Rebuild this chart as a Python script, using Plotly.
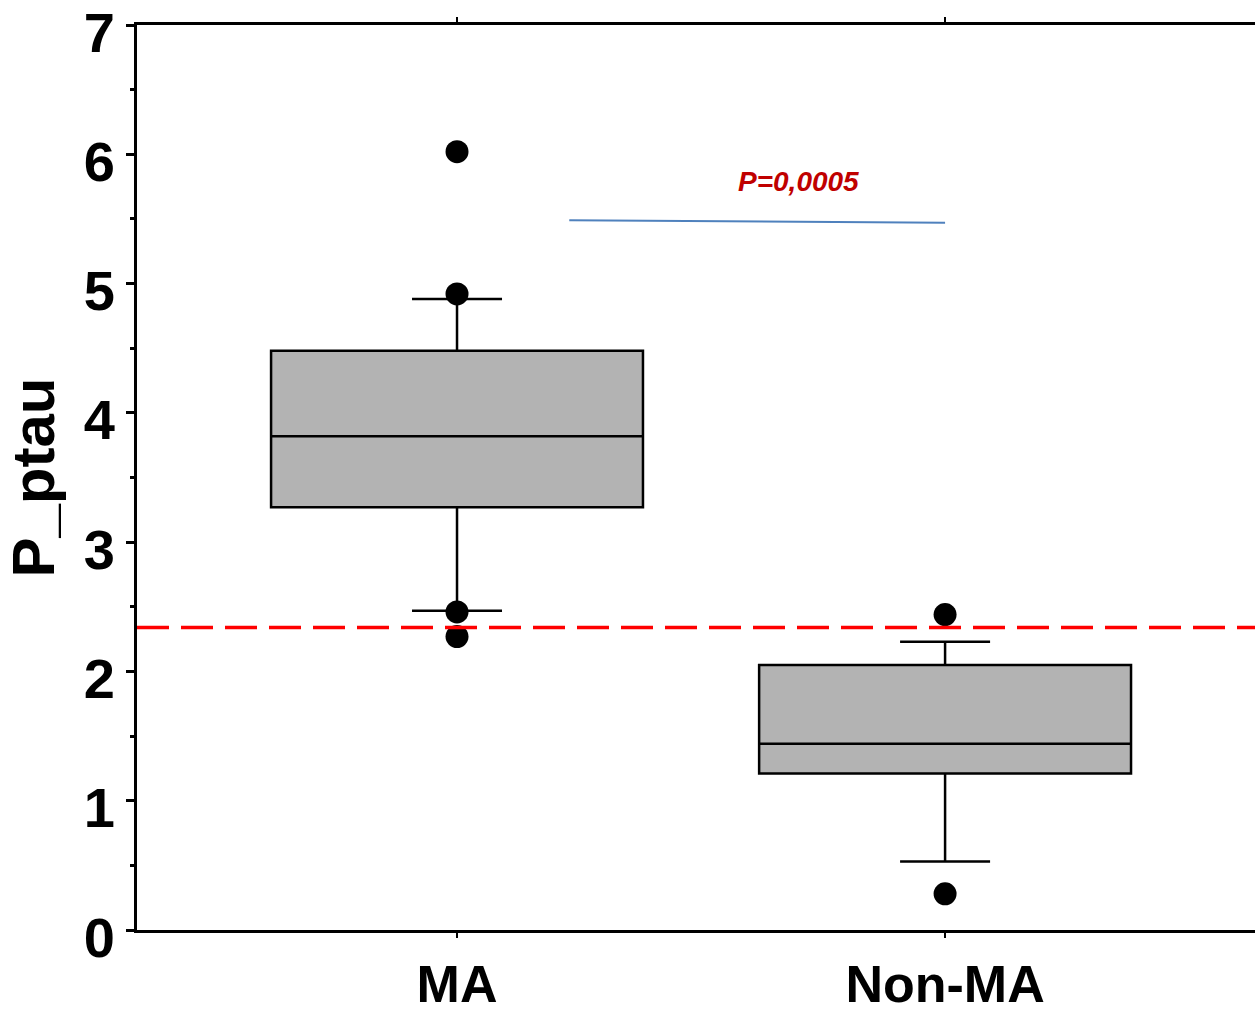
import plotly.graph_objects as go

categories = ["MA", "Non-MA"]
cat_pos = [0, 1]
q1 = [3.27, 1.21]
median = [3.82, 1.44]
q3 = [4.48, 2.05]
lower_whisker = [2.47, 0.53]
upper_whisker = [4.88, 2.23]
outliers_ma = [6.02, 4.92, 2.46, 2.27]
outliers_nonma = [2.44, 0.28]
cutoff = 2.34
sig_line_x = [0.23, 1.0]
sig_line_y = [5.49, 5.47]
p_text = "P=0,0005"
p_text_pos = (0.70, 5.79)
y_ticks = [0, 1, 2, 3, 4, 5, 6, 7]

TICKFONT = "Liberation Sans, Arial, sans-serif"

fig = go.Figure()

for i in range(2):
    fig.add_trace(go.Box(
        x=[cat_pos[i]], q1=[q1[i]], median=[median[i]], q3=[q3[i]],
        lowerfence=[lower_whisker[i]], upperfence=[upper_whisker[i]],
        width=0.762, whiskerwidth=0.242,
        fillcolor="#B3B3B3", line=dict(color="black", width=2.5),
        boxpoints=False, showlegend=False, hoverinfo="skip",
    ))

fig.add_trace(go.Scatter(
    x=[cat_pos[0]] * len(outliers_ma) + [cat_pos[1]] * len(outliers_nonma),
    y=outliers_ma + outliers_nonma,
    mode="markers", marker=dict(color="black", size=23, symbol="circle"),
    showlegend=False,
))

fig.add_trace(go.Scatter(
    x=sig_line_x, y=sig_line_y, mode="lines",
    line=dict(color="#4F81BD", width=2), showlegend=False,
))

fig.add_shape(type="line", xref="paper", yref="y", x0=0, x1=1, y0=cutoff, y1=cutoff,
              line=dict(color="#FF0000", width=3.5, dash="32px,12px"), layer="above")

fig.add_annotation(x=p_text_pos[0], y=p_text_pos[1], text="<b><i>" + p_text + "</i></b>",
                   showarrow=False, font=dict(family="Liberation Sans, Arial", size=28, color="#C00000"))

fig.update_layout(
    width=1255, height=1015,
    margin=dict(l=137, r=0, t=25, b=85),
    plot_bgcolor="white", paper_bgcolor="white",
    showlegend=False,
    xaxis=dict(
        range=[-0.6557, 1.635], tickvals=cat_pos, ticktext=["<b>%s</b>" % c for c in categories],
        showline=True, linecolor="black", linewidth=3, mirror="ticks",
        ticks="outside", ticklen=5, tickwidth=2, tickcolor="black",
        showgrid=False, zeroline=False, ticklabeloverflow="allow", automargin=False,
        ticklabelstandoff=2,
        tickfont=dict(family=TICKFONT, size=52, color="black"),
    ),
    yaxis=dict(
        range=[0, 7], tickvals=y_ticks, ticktext=["<b>%d</b>" % v for v in y_ticks],
        showline=True, linecolor="black", linewidth=3,
        ticks="outside", ticklen=8, tickwidth=2.5, tickcolor="black",
        minor=dict(dtick=0.5, ticks="outside", ticklen=4, tickwidth=2.5, tickcolor="black"),
        showgrid=False, zeroline=False, ticklabeloverflow="allow", automargin=False,
        ticklabelshift=7,
        tickfont=dict(family=TICKFONT, size=56, color="black"),
        title=dict(text="<b>P_ptau</b>", font=dict(family="Liberation Sans, Arial", size=60, color="black"), standoff=14),
    ),
)

fig.write_html("out.html", config={"displayModeBar": False},
               post_script="document.body.style.margin='0';document.body.style.overflow='hidden';")
